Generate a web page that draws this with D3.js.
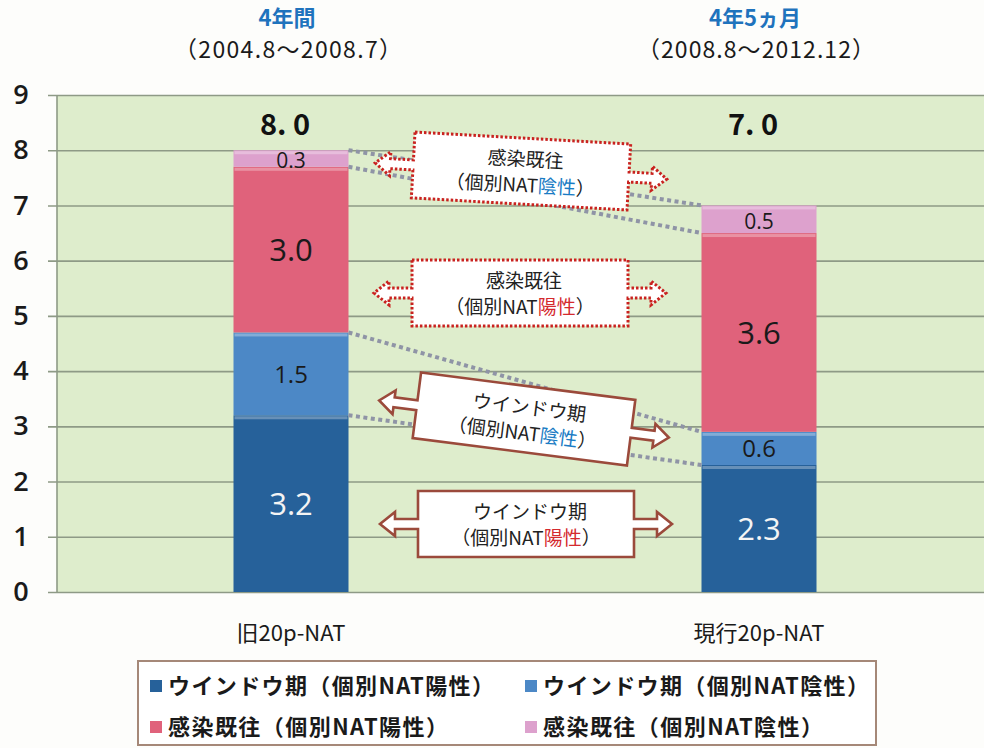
<!DOCTYPE html>
<html>
<head>
<meta charset="utf-8">
<script src="https://cdn.jsdelivr.net/npm/d3@7"></script>
<style>
  body { margin: 0; background: #fdfdfb; }
  svg { display: block; }
  .jp { font-family: "Noto Sans CJK JP", "Noto Sans", sans-serif; }
  .num { font-family: "Open Sans", "Noto Sans", sans-serif; }
</style>
</head>
<body>
<svg id="chart"></svg>
<script>
// data
var categories = ['旧20p-NAT', '現行20p-NAT'];
var periods = ['4年間', '4年5ヵ月'];
var ranges = ['（2004.8〜2008.7）', '（2008.8〜2012.12）'];
var seriesNames = ['ウインドウ期（個別NAT陽性）', 'ウインドウ期（個別NAT陰性）', '感染既往（個別NAT陽性）', '感染既往（個別NAT陰性）'];
var windowPos = [3.2, 2.3];
var windowNeg = [1.5, 0.6];
var infectPos = [3.0, 3.6];
var infectNeg = [0.3, 0.5];
var totals = ['8. 0', '7. 0'];
var yTicks = [0, 1, 2, 3, 4, 5, 6, 7, 8, 9];

var keys = ['wp', 'wn', 'ip', 'in'];
var colors = ['#26619a', '#4c88c6', '#e0627b', '#dda1cd'];
var labelColors = ['#f4f4f4', '#1a1a1a', '#1a1a1a', '#1a1a1a'];
var labelSizes = [31, 24, 31, 21];

var rows = categories.map(function (c, i) {
    return { cat: c, wp: windowPos[i], wn: windowNeg[i], ip: infectPos[i], in: infectNeg[i] };
});
var stacked = d3.stack().keys(keys)(rows);

var W = 984, H = 748;
var plotLeft = 57, plotRight = 984, plotTop = 95, plotBottom = 592;
var barWidth = 115;

var svg = d3.select('#chart').attr('width', W).attr('height', H);

var x = d3.scaleBand().domain(categories).range([plotLeft, 993]);
var y = d3.scaleLinear().domain([0, 9]).range([plotBottom, plotTop]);
function cx(c) { return x(c) + x.bandwidth() / 2; }

// plot background
svg.append('rect').attr('x', plotLeft).attr('y', plotTop)
    .attr('width', plotRight - plotLeft).attr('height', plotBottom - plotTop)
    .attr('fill', '#deedcc');

// grid + axis
var yAxis = d3.axisLeft(y).tickValues(yTicks).tickSize(-(plotRight - plotLeft + 9)).tickFormat(d3.format('d'));
var ga = svg.append('g').attr('transform', 'translate(' + plotLeft + ',0)').call(yAxis);
ga.select('.domain').remove();
ga.selectAll('.tick line').attr('x1', -9).attr('x2', plotRight - plotLeft)
    .attr('stroke', '#8e9a86').attr('stroke-width', 1.6);
ga.selectAll('.tick text').attr('x', -36).attr('text-anchor', 'middle')
    .attr('class', 'num').style('font-size', '27px').style('font-weight', 600).attr('fill', '#1a1a1a');
svg.append('line').attr('x1', plotLeft).attr('x2', plotLeft).attr('y1', plotTop).attr('y2', plotBottom)
    .attr('stroke', '#8e9a86').attr('stroke-width', 1.6);

// bars
var layers = svg.selectAll('.layer').data(stacked).enter().append('g').attr('class', 'layer')
    .attr('fill', function (d, i) { return colors[i]; });
layers.selectAll('rect').data(function (d) { return d; }).enter().append('rect')
    .attr('x', function (d) { return cx(d.data.cat) - barWidth / 2; })
    .attr('y', function (d) { return y(d[1]); })
    .attr('height', function (d) { return y(d[0]) - y(d[1]); })
    .attr('width', barWidth);
// glossy top edge
layers.selectAll('.gloss').data(function (d) { return d; }).enter().append('rect')
    .attr('x', function (d) { return cx(d.data.cat) - barWidth / 2 + 1; })
    .attr('y', function (d) { return y(d[1]) + 1; })
    .attr('height', 3)
    .attr('width', barWidth - 2)
    .attr('fill', '#ffffff').attr('opacity', 0.3);

// value labels
stacked.forEach(function (layer, li) {
    svg.selectAll('.val' + li).data(layer).enter().append('text')
        .attr('class', 'num')
        .attr('x', function (d) { return cx(d.data.cat); })
        .attr('y', function (d) { return (y(d[0]) + y(d[1])) / 2 + (li === 3 ? 2 : 0); })
        .attr('dy', '0.36em')
        .attr('text-anchor', 'middle')
        .style('font-size', labelSizes[li] + 'px')
        .attr('fill', labelColors[li])
        .text(function (d) { return d3.format('.1f')(d[1] - d[0]); });
});

// totals
svg.selectAll('.total').data(categories).enter().append('text')
    .attr('class', 'jp')
    .attr('x', function (d) { return cx(d) - 6; })
    .attr('y', 125)
    .attr('dy', '0.36em')
    .attr('text-anchor', 'middle')
    .style('font-size', '29px').style('font-weight', 700)
    .attr('fill', '#111')
    .text(function (d, i) { return totals[i]; });

// connecting dotted lines
stacked.forEach(function (layer) {
    svg.append('line')
        .attr('x1', cx(categories[0]) + barWidth / 2).attr('y1', y(layer[0][1]))
        .attr('x2', cx(categories[1]) - barWidth / 2).attr('y2', y(layer[1][1]))
        .attr('stroke', '#8f94a6').attr('stroke-width', 4).attr('stroke-dasharray', '4,3.5');
});

// period titles
svg.selectAll('.period').data(periods).enter().append('text')
    .attr('class', 'jp')
    .attr('x', function (d, i) { return cx(categories[i]) - 4; })
    .attr('y', 18).attr('dy', '0.36em').attr('text-anchor', 'middle')
    .style('font-size', '22px').style('font-weight', 700).attr('fill', '#1f73bd')
    .text(function (d) { return d; });
svg.selectAll('.range').data(ranges).enter().append('text')
    .attr('class', 'jp')
    .attr('x', function (d, i) { return cx(categories[i]) - 3; })
    .attr('y', 50).attr('dy', '0.36em').attr('text-anchor', 'middle')
    .style('font-size', '23px').attr('fill', '#1a1a1a')
    .attr('textLength', function (d, i) { return i === 0 ? 228 : 238; })
    .text(function (d) { return d; });

// category labels
svg.selectAll('.cat').data(categories).enter().append('text')
    .attr('class', 'jp')
    .attr('x', function (d) { return cx(d); })
    .attr('y', 633).attr('dy', '0.36em').attr('text-anchor', 'middle')
    .style('font-size', '22px').attr('fill', '#1a1a1a')
    .text(function (d) { return d; });

// annotation boxes with double arrows
function boxPath(w, h, L, s, hh, hl) {
    var x0 = -w / 2, x1 = w / 2, y0 = -h / 2, y1 = h / 2;
    var p = [[x0, y0], [x1, y0], [x1, -s], [x1 + L - hl, -s], [x1 + L - hl, -hh], [x1 + L, 0],
        [x1 + L - hl, hh], [x1 + L - hl, s], [x1, s], [x1, y1], [x0, y1], [x0, s],
        [x0 - L + hl, s], [x0 - L + hl, hh], [x0 - L, 0], [x0 - L + hl, -hh], [x0 - L + hl, -s], [x0, -s]];
    return d3.line()(p) + 'Z';
}
var notes = [
    { cx: 521, cy: 171, rot: 3.2, l1: '感染既往', hl: '陰性', hc: '#1a7cc4', dotted: true },
    { cx: 520, cy: 293, rot: 0, l1: '感染既往', hl: '陽性', hc: '#d42a2e', dotted: true },
    { cx: 524, cy: 419, rot: 7.3, l1: 'ウインドウ期', hl: '陰性', hc: '#1a7cc4', dotted: false },
    { cx: 526, cy: 524, rot: 0, l1: 'ウインドウ期', hl: '陽性', hc: '#d42a2e', dotted: false }
];
notes.forEach(function (n) {
    var g = svg.append('g').attr('transform', 'translate(' + n.cx + ',' + n.cy + ') rotate(' + n.rot + ')');
    g.append('path').attr('d', boxPath(216, 66, 38, 5, 12, 15))
        .attr('fill', '#ffffff')
        .attr('stroke', n.dotted ? '#c9221f' : '#9b4a3b')
        .attr('stroke-width', n.dotted ? 3 : 2.6)
        .attr('stroke-dasharray', n.dotted ? '2.5,2' : null);
    g.append('text').attr('class', 'jp').attr('x', 4).attr('y', -12).attr('dy', '0.36em')
        .attr('text-anchor', 'middle').style('font-size', '19px').attr('fill', '#222').text(n.l1);
    var t2 = g.append('text').attr('class', 'jp').attr('x', 0).attr('y', 14).attr('dy', '0.36em')
        .attr('text-anchor', 'middle').style('font-size', '19px').attr('fill', '#222');
    t2.append('tspan').text('（個別NAT');
    t2.append('tspan').attr('fill', n.hc).text(n.hl);
    t2.append('tspan').text('）');
});

// legend
svg.append('rect').attr('x', 138).attr('y', 661).attr('width', 738).attr('height', 84)
    .attr('fill', '#ffffff').attr('stroke', '#a58878').attr('stroke-width', 2);
var legendPos = [[150, 686], [525, 686], [150, 727], [525, 727]];
var lg = svg.selectAll('.lg').data(seriesNames).enter().append('g')
    .attr('transform', function (d, i) { return 'translate(' + legendPos[i][0] + ',' + legendPos[i][1] + ')'; });
lg.append('rect').attr('x', 0).attr('y', -6).attr('width', 12).attr('height', 12)
    .attr('fill', function (d, i) { return colors[i]; });
lg.append('text').attr('class', 'jp').attr('x', 18).attr('dy', '0.36em')
    .style('font-size', '22px').style('font-weight', 700).attr('fill', '#1a1a1a')
    .attr('textLength', function (d, i) { return i < 2 ? 326 : 280; })
    .text(function (d) { return d; });
</script>
</body>
</html>
